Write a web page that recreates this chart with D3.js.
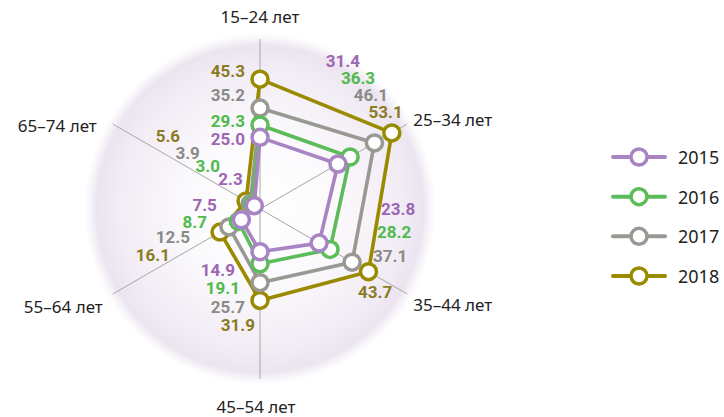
<!DOCTYPE html>
<html>
<head>
<meta charset="utf-8">
<script src="https://cdn.jsdelivr.net/npm/d3@7"></script>
<style>
  html, body { margin: 0; padding: 0; background: #fff; }
  svg { display: block; }
  .axis-label { font-family: "Noto Sans", "Open Sans", sans-serif; font-size: 17px; fill: #222; }
  .val { font-family: Roboto, "Liberation Sans Narrow", sans-serif; font-weight: 700; font-size: 17px; }
  .legend-label { font-family: "Noto Sans", "Open Sans", sans-serif; font-size: 18px; fill: #222; }
</style>
</head>
<body>
<svg id="chart" width="724" height="417"></svg>
<script>
// Age groups around the radar, clockwise from the top
const categories = ["15–24 лет", "25–34 лет", "35–44 лет", "45–54 лет", "55–64 лет", "65–74 лет"];
const years = ["2015", "2016", "2017", "2018"];
const values2015 = [25.0, 31.4, 23.8, 14.9, 7.5, 2.3];
const values2016 = [29.3, 36.3, 28.2, 19.1, 8.7, 3.0];
const values2017 = [35.2, 46.1, 37.1, 25.7, 12.5, 3.9];
const values2018 = [45.3, 53.1, 43.7, 31.9, 16.1, 5.6];
const radialDomain = [0, 60];

const lineColors = ["#a884c4", "#5cbc5a", "#999994", "#9a8a00"];
const textColors = ["#9c66b4", "#4fba4c", "#8a8a86", "#8a7c22"];

const seriesValues = [values2015, values2016, values2017, values2018];
const series = years.map((y, i) => ({ year: y, values: seriesValues[i], line: lineColors[i], text: textColors[i] }));

const svg = d3.select("#chart");
const cx = 260, cy = 209, R = 172;

const r = d3.scaleLinear().domain(radialDomain).range([0, R]);
const angle = d3.scaleLinear().domain([0, categories.length]).range([0, 2 * Math.PI]);
const px = (i, v) => cx + r(v) * Math.sin(angle(i));
const py = (i, v) => cy - r(v) * Math.cos(angle(i));

// Soft lavender disc behind the radar
const defs = svg.append("defs");
const grad = defs.append("radialGradient").attr("id", "bg").attr("cx", "50%").attr("cy", "50%").attr("r", "50%");
[[0, "#ffffff", 1], [0.45, "#fbf9fc", 1], [0.8, "#f2ecf5", 1], [0.93, "#ece5f0", 1], [1, "#f2edf5", 0]]
  .forEach(([o, c, a]) => grad.append("stop").attr("offset", o).attr("stop-color", c).attr("stop-opacity", a));
svg.append("circle").attr("cx", cx).attr("cy", cy).attr("r", R + 4).attr("fill", "url(#bg)");

// Spokes
const spokeLen = 170;
svg.append("g").selectAll("line").data(categories).join("line")
  .attr("x1", cx).attr("y1", cy)
  .attr("x2", (d, i) => cx + spokeLen * Math.sin(angle(i)))
  .attr("y2", (d, i) => cy - spokeLen * Math.cos(angle(i)))
  .attr("stroke", "#a6a6a6").attr("stroke-width", 1);

// Category labels placed just beyond each spoke end
const catPlace = [
  { dx: 0, dy: -8, anchor: "middle" },
  { dx: 6, dy: -5, anchor: "start" },
  { dx: 6, dy: 10, anchor: "start" },
  { dx: -4, dy: 27, anchor: "middle" },
  { dx: -10, dy: 12, anchor: "end" },
  { dx: -16, dy: 1, anchor: "end" }
];
svg.append("g").selectAll("text").data(categories).join("text")
  .attr("class", "axis-label")
  .attr("x", (d, i) => cx + spokeLen * Math.sin(angle(i)) + catPlace[i].dx)
  .attr("y", (d, i) => i === 0 ? 16.5 : cy - spokeLen * Math.cos(angle(i)) + catPlace[i].dy)
  .attr("text-anchor", (d, i) => catPlace[i].anchor)
  .attr("dominant-baseline", "central")
  .text(d => d);

// Series polygons, outermost year at the back
const radial = d3.lineRadial()
  .angle((d, i) => angle(i))
  .radius(d => r(d))
  .curve(d3.curveLinearClosed);

const drawOrder = series.slice().reverse();
const layers = svg.append("g").selectAll("g.series").data(drawOrder).join("g").attr("class", "series");
layers.append("path")
  .attr("transform", `translate(${cx},${cy})`)
  .attr("d", d => radial(d.values))
  .attr("fill", "none")
  .attr("stroke", d => d.line)
  .attr("stroke-width", 3.6)
  .attr("stroke-linejoin", "round");
layers.selectAll("circle").data(d => d.values.map((v, i) => ({ v, i, s: d }))).join("circle")
  .attr("cx", d => px(d.i, d.v))
  .attr("cy", d => py(d.i, d.v))
  .attr("r", 8)
  .attr("fill", "#fff")
  .attr("stroke", d => d.s.line)
  .attr("stroke-width", 3.5);

// Value labels: offset from each point per spoke [2015, 2016, 2017, 2018]
const labelNudge = [
  { anchor: "end",   off: [[-15, 2], [-15, -4], [-15, -13], [-15, -8]] },
  { anchor: "end",   off: [[22, -103], [25, -79], [13.5, -48], [11, -21]] },
  { anchor: "start", off: [[62, -34], [47, -17], [21, -6], [-10.5, 20.5]] },
  { anchor: "end",   off: [[-25, 18.5], [-20, 24.5], [-15, 24], [-5, 25]] },
  { anchor: "end",   off: [[-24.5, -14.5], [-31.5, 1], [-39, 10.5], [-50, 22.5]] },
  { anchor: "end",   off: [[-11.5, -27], [-32.5, -39], [-50.5, -50], [-66, -64.5]] }
];
const labelData = [];
series.forEach((s, si) => s.values.forEach((v, i) => labelData.push({ v, i, si, s })));
svg.append("g").selectAll("text").data(labelData).join("text")
  .attr("class", "val")
  .attr("x", d => px(d.i, d.v) + labelNudge[d.i].off[d.si][0])
  .attr("y", d => py(d.i, d.v) + labelNudge[d.i].off[d.si][1])
  .attr("dominant-baseline", "central")
  .attr("text-anchor", d => labelNudge[d.i].anchor)
  .attr("fill", d => d.s.text)
  .text(d => d3.format(".1f")(d.v));

// Legend
const legendY = d3.scalePoint().domain(years).range([157, 276]);
const lg = svg.append("g").selectAll("g").data(series).join("g")
  .attr("transform", d => `translate(639,${legendY(d.year)})`);
lg.append("line").attr("x1", -26).attr("x2", 26)
  .attr("stroke", d => d.line).attr("stroke-width", 4).attr("stroke-linecap", "round");
lg.append("circle").attr("r", 8).attr("fill", "#fff")
  .attr("stroke", d => d.line).attr("stroke-width", 3.5);
lg.append("text").attr("class", "legend-label")
  .attr("x", 39).attr("dominant-baseline", "central")
  .text(d => d.year);
</script>
</body>
</html>
